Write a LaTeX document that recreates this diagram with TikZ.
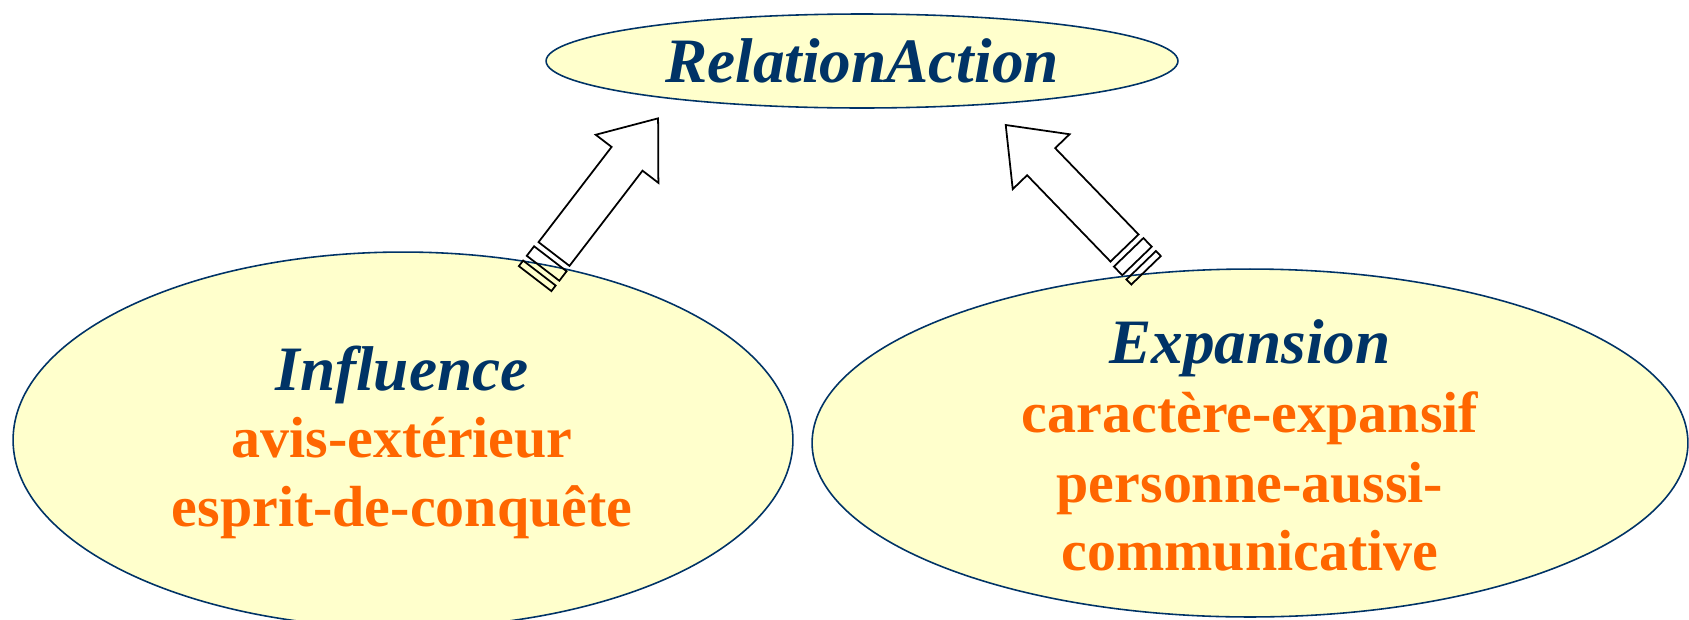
\documentclass[tikz,border=0pt]{standalone}
\usepackage{fontspec}
\setmainfont{Liberation Serif}
\usetikzlibrary{shapes.geometric, positioning}
\definecolor{navyline}{HTML}{003366}
\definecolor{paleyellow}{HTML}{FFFFCC}
\definecolor{orangetext}{HTML}{FF6600}

\begin{document}
\begin{tikzpicture}[x=0.02cm, y=-0.02cm,
  every node/.style = {inner sep=0pt},
  bubble/.style = {shape=ellipse, draw=navyline, fill=paleyellow, line width=0.9pt},
  headline/.style = {anchor=base, text=navyline, font=\fontsize{36}{43}\selectfont\bfseries\itshape},
  trait/.style = {anchor=base, text=orangetext, font=\fontsize{33}{40}\selectfont\bfseries},
  stripearrow/.pic = {
    \draw[fill=white, line width=1pt, line join=miter]
      (0,-19.5) -- (120,-19.5) -- (120,-39.5) -- (171,0) -- (120,39.5)
      -- (120,19.5) -- (0,19.5) -- cycle;
    \draw[line width=1pt] (-18,-20.5) rectangle (-6,20.5);
    \draw[line width=1pt] (-31,-20.5) rectangle (-24,20.5);
  }]
\useasboundingbox (0,0) rectangle (1689,619);

% the three bubbles
\node[bubble, minimum width=12.64cm, minimum height=1.88cm, headline, anchor=center]
  (relation) at (862,61) {RelationAction};
\node[bubble, minimum width=15.6cm, minimum height=7.52cm] (influence) at (403,440) {};
\node[bubble, minimum width=17.52cm, minimum height=6.96cm] (expansion) at (1250,443) {};

% texts of the left bubble
\node[headline] (inftitle) at (402,390) {Influence};
\node[trait] (avis) at ([yshift=-1.36cm]inftitle.base) {avis-extérieur};
\node[trait] (esprit) at ([yshift=-1.38cm]avis.base) {esprit-de-conquête};

% texts of the right bubble
\node[headline] (exptitle) at (1250,363) {Expansion};
\node[trait] (caractere) at ([yshift=-1.4cm]exptitle.base) {caractère-expansif};
\node[trait] (personne) at ([yshift=-1.4cm]caractere.base) {personne-aussi-};
\node[trait] (communic) at ([yshift=-1.36cm]personne.base) {communicative};

% striped arrows up to the top bubble
\pic[rotate=52.5] at (554,254) {stripearrow};
\pic[rotate=134] at (1124.5,248) {stripearrow};
\end{tikzpicture}
\end{document}
